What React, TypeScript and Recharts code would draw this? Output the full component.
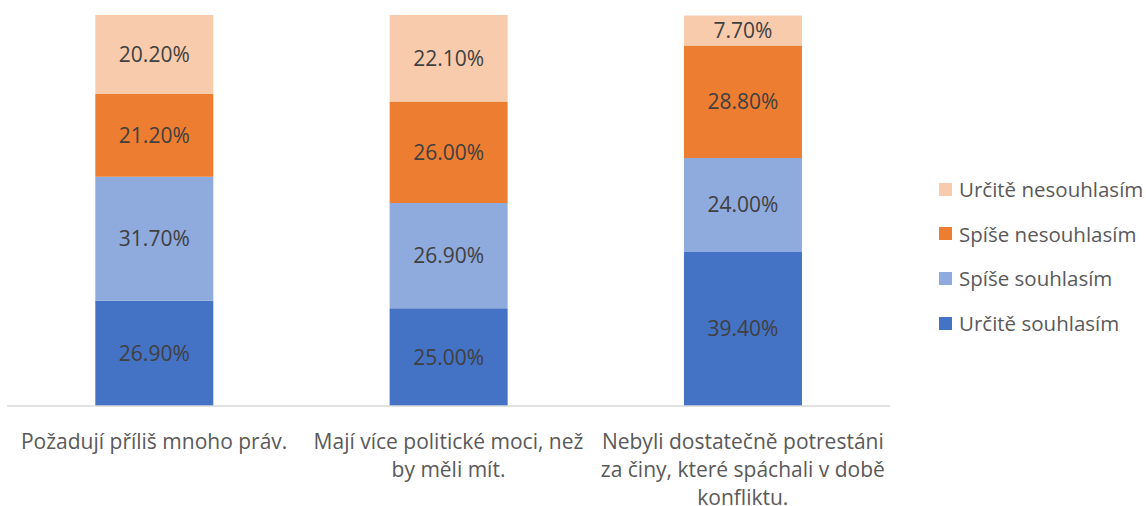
import React from "react";
import { BarChart, Bar, XAxis, YAxis, LabelList } from "recharts";

const categories = [
  "Požadují příliš mnoho práv.",
  "Mají více politické moci, než by měli mít.",
  "Nebyli dostatečně potrestáni za činy, které spáchali v době konfliktu.",
];
const categoryLines = [
  ["Požadují příliš mnoho práv."],
  ["Mají více politické moci, než", "by měli mít."],
  ["Nebyli dostatečně potrestáni", "za činy, které spáchali v době", "konfliktu."],
];
const urciteSouhlasim = [26.9, 25.0, 39.4];
const spiseSouhlasim = [31.7, 26.9, 24.0];
const spiseNesouhlasim = [21.2, 26.0, 28.8];
const urciteNesouhlasim = [20.2, 22.1, 7.7];

const seriesNames = ["Určitě souhlasím", "Spíše souhlasím", "Spíše nesouhlasím", "Určitě nesouhlasím"];
const seriesKeys = ["s1", "s2", "s3", "s4"];
const seriesColors = ["#4472C4", "#8FAADC", "#ED7D31", "#F8CBAD"];

const data = categories.map((c, i) => ({
  name: c,
  idx: i,
  s1: urciteSouhlasim[i],
  s2: spiseSouhlasim[i],
  s3: spiseNesouhlasim[i],
  s4: urciteNesouhlasim[i],
}));

const FONT = "'Open Sans', sans-serif";

const Tick = (props: any) => {
  const { x, y, payload } = props;
  const lines = categoryLines[payload.index] || [String(payload.value)];
  return (
    <g>
      {lines.map((l: string, k: number) => (
        <text
          key={k}
          x={x}
          y={y + 29 + k * 28}
          textAnchor="middle"
          dominantBaseline="middle"
          fill="#595959"
          fontSize={21}
          fontFamily={FONT}
        >
          {l}
        </text>
      ))}
    </g>
  );
};

const fmt = (v: any) => Number(v).toFixed(2) + "%";

export default function App() {
  const legendOrder = [3, 2, 1, 0];
  return (
    <div style={{ position: "absolute", left: 0, top: 0, width: 1146, height: 506, background: "#fff", overflow: "hidden" }}>
      <BarChart
        width={1146}
        height={506}
        data={data}
        margin={{ top: 15, right: 256, left: 7, bottom: 5 }}
        barCategoryGap="30%"
      >
        <XAxis
          dataKey="name"
          height={95}
          tickLine={false}
          axisLine={{ stroke: "#d9d9d9", strokeWidth: 1.5 }}
          tick={<Tick />}
          interval={0}
        />
        <YAxis hide domain={[0, 100]} />
        {seriesKeys.map((k, i) => (
          <Bar key={k} dataKey={k} stackId="a" fill={seriesColors[i]} isAnimationActive={false}>
            <LabelList
              dataKey={k}
              position="center"
              formatter={fmt}
              fill="#404040"
              fontSize={21}
              fontFamily={FONT}
            />
          </Bar>
        ))}
      </BarChart>
      <div style={{ position: "absolute", left: 939, top: 0, fontFamily: FONT }}>
        {legendOrder.map((si, r) => (
          <div
            key={si}
            style={{
              position: "absolute",
              top: 189 + r * 44.7 - 13,
              left: 0,
              display: "flex",
              alignItems: "center",
              height: 26,
              whiteSpace: "nowrap",
            }}
          >
            <span style={{ width: 13, height: 13, background: seriesColors[si], display: "inline-block", marginRight: 7 }} />
            <span style={{ color: "#595959", fontSize: 20.5 }}>{seriesNames[si]}</span>
          </div>
        ))}
      </div>
    </div>
  );
}
